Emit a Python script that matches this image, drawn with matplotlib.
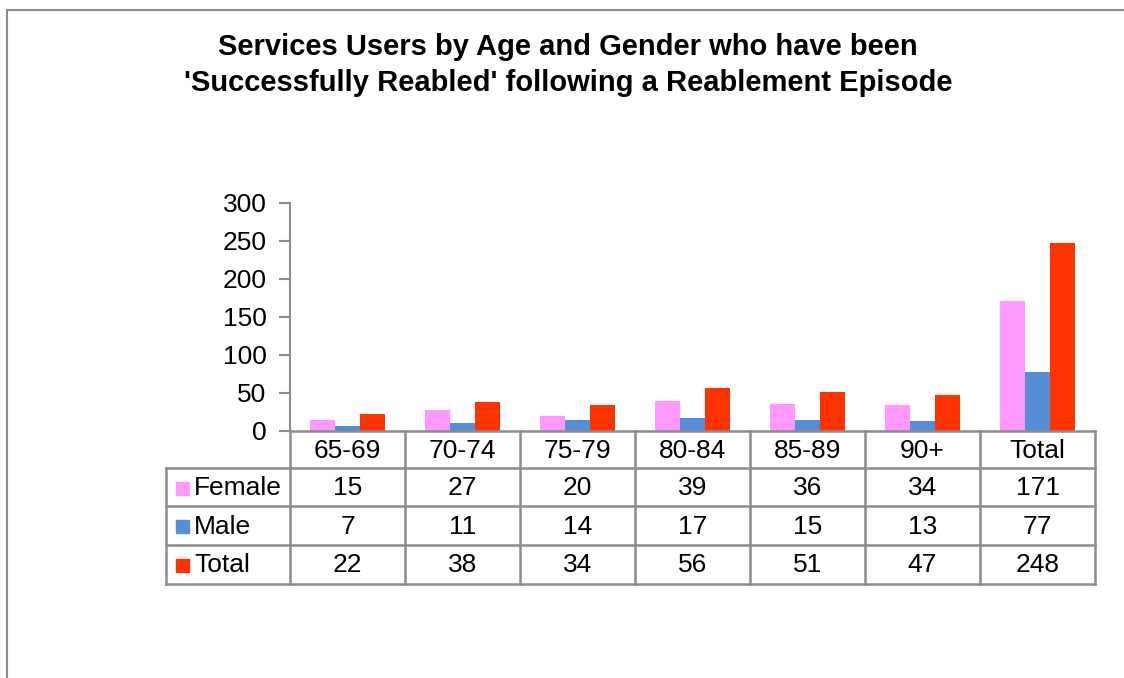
import matplotlib
matplotlib.use('Agg')
import matplotlib.pyplot as plt
from matplotlib.patches import Rectangle

plt.rcParams['font.family'] = ['Liberation Sans', 'DejaVu Sans']

categories = ['65-69', '70-74', '75-79', '80-84', '85-89', '90+', 'Total']
female = [15, 27, 20, 39, 36, 34, 171]
male = [7, 11, 14, 17, 15, 13, 77]
total = [22, 38, 34, 56, 51, 47, 248]
series_names = ['Female', 'Male', 'Total']
colors = ['#FF99FF', '#558ED5', '#FF3300']
yticks = [0, 50, 100, 150, 200, 250, 300]

W, H = 1124, 678
fig = plt.figure(figsize=(W / 100, H / 100), dpi=100)
GRID = '#8c8c8c'
FS = 19

# plot area in pixels
left, right, top, bottom = 290, 1095, 203, 431
ax = fig.add_axes([left / W, 1 - bottom / H, (right - left) / W, (bottom - top) / H])

n = len(categories)
bw = 0.22
xs = list(range(n))
for k, vals in enumerate([female, male, total]):
    ax.bar([x + (k - 1) * bw for x in xs], vals, width=bw, color=colors[k], zorder=3)

ax.set_xlim(-0.5, n - 0.5)
ax.set_ylim(0, 300)
ax.set_yticks(yticks)
ax.set_xticks([])
ax.tick_params(axis='y', labelsize=FS, length=8, width=1.5, color=GRID, pad=9)
for s in ['top', 'right']:
    ax.spines[s].set_visible(False)
ax.spines['left'].set_color(GRID)
ax.spines['left'].set_linewidth(1.5)
ax.spines['bottom'].set_visible(False)

# overlay in pixel coords for table, title and frame
ov = fig.add_axes([0, 0, 1, 1], zorder=5)
ov.set_xlim(0, W)
ov.set_ylim(H, 0)
ov.axis('off')
ov.patch.set_alpha(0)

# outer chart frame
ov.plot([7, 7, W], [H, 10, 10], color=GRID, lw=1.5)

ov.text(568, 65, "Services Users by Age and Gender who have been\n'Successfully Reabled' following a Reablement Episode",
        ha='center', va='center', fontsize=21, fontweight='bold', linespacing=1.32)

cw = (right - left) / n
col_edges = [left + i * cw for i in range(n + 1)]
row_edges = [431, 468, 506, 545, 584]
label_left = 166

# horizontal lines
ov.plot([left, right], [row_edges[0], row_edges[0]], color=GRID, lw=1.8)
for y in row_edges[1:]:
    ov.plot([label_left, right], [y, y], color=GRID, lw=1.8)
# vertical lines
for x in col_edges:
    ov.plot([x, x], [row_edges[0], row_edges[-1]], color=GRID, lw=1.8)
ov.plot([label_left, label_left], [row_edges[1], row_edges[-1]], color=GRID, lw=1.8)

for i, c in enumerate(categories):
    ov.text(col_edges[i] + cw / 2, (row_edges[0] + row_edges[1]) / 2 + 1, c,
            ha='center', va='center', fontsize=FS)

for r, (name, vals) in enumerate(zip(series_names, [female, male, total])):
    yc = (row_edges[r + 1] + row_edges[r + 2]) / 2 + 1
    ov.add_patch(Rectangle((176, yc - 6.5), 13, 13, color=colors[r]))
    ov.text(194, yc, name, ha='left', va='center', fontsize=FS)
    for i, v in enumerate(vals):
        ov.text(col_edges[i] + cw / 2, yc, str(v), ha='center', va='center', fontsize=FS)

fig.savefig('out.png', dpi=100)
